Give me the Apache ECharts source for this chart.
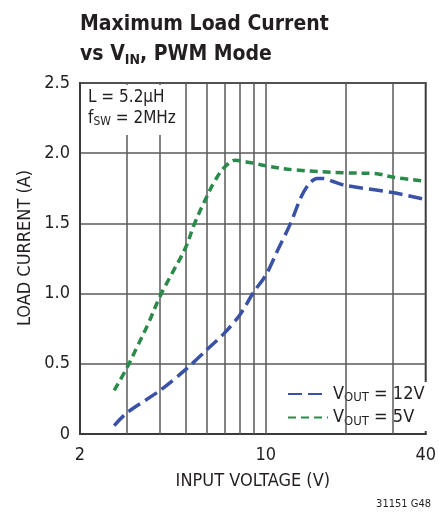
<!DOCTYPE html>
<html>
<head>
<meta charset="utf-8">
<script src="https://cdn.jsdelivr.net/npm/echarts@6/dist/echarts.min.js"></script>
<style>html,body{margin:0;padding:0;background:#fff}#c{width:439px;height:514px}</style>
</head>
<body>
<div id="c"></div>
<script>
// ---- data ----
var vin12 = [2.69, 3.0, 4.0, 5.0, 6.0, 7.0, 8.0, 9.0, 10, 11.1, 12.4, 13.6, 14.6, 15.6, 16.5, 17.8, 20, 30, 40];
var iout12 = [0.06, 0.15, 0.31, 0.46, 0.60, 0.72, 0.85, 1.01, 1.13, 1.31, 1.50, 1.69, 1.785, 1.82, 1.82, 1.80, 1.77, 1.72, 1.67];
var vin5 = [2.69, 3.0, 3.28, 3.62, 4.0, 4.43, 5.0, 5.4, 6.0, 6.47, 7.0, 7.7, 8.3, 9.0, 10, 13, 20, 25.7, 30, 40];
var iout5 = [0.31, 0.47, 0.62, 0.79, 0.98, 1.14, 1.33, 1.50, 1.69, 1.81, 1.90, 1.95, 1.94, 1.93, 1.91, 1.88, 1.86, 1.855, 1.83, 1.80];
var xGridValues = [3, 4, 5, 6, 7, 8, 9, 10, 20, 30];
var xTickLabels = [2, 10, 40];
var seriesNames = ['VOUT = 12V', 'VOUT = 5V'];

var FONT = "'Liberation Sans Narrow','DejaVu Sans Condensed',sans-serif";
var GRID = '#5a5a5a';
var BLUE = '#3a52a6';
var GREEN = '#2a8a4a';

function pairs(xs, ys) { return xs.map(function (x, i) { return [x, ys[i]]; }); }

var chart = echarts.init(document.getElementById('c'), null, {renderer: 'canvas'});
chart.setOption({
  animation: false,
  backgroundColor: '#fff',
  textStyle: {fontFamily: FONT},
  title: {
    left: 80, top: 10, padding: 0,
    text: '{a|Maximum Load Current}\n{a|vs V}{s|IN}{a|, PWM Mode}',
    textStyle: {
      rich: {
        a: {fontFamily: FONT, fontWeight: 'bold', fontSize: 21, color: '#231f20', lineHeight: 30},
        s: {fontFamily: FONT, fontWeight: 'bold', fontSize: 14, color: '#231f20', lineHeight: 30, padding: [11, 0, 0, 0]}
      }
    }
  },
  grid: {left: 80, top: 83, right: 7, bottom: 80, show: true, borderColor: '#3a3a3a', borderWidth: 2, backgroundColor: 'transparent'},
  xAxis: {
    type: 'log', logBase: 10, min: 2, max: 40,
    name: 'INPUT VOLTAGE (V)', nameLocation: 'middle', nameGap: 38,
    nameTextStyle: {fontFamily: FONT, fontSize: 18, color: '#231f20'},
    axisLine: {show: true, lineStyle: {color: '#3a3a3a', width: 2}},
    axisTick: {show: false},
    splitLine: {show: false},
    axisLabel: {
      fontFamily: FONT, fontSize: 18, color: '#231f20', margin: 12,
      showMinLabel: true, showMaxLabel: true,
      formatter: function (v) {
        var r = Math.round(v);
        return xTickLabels.indexOf(r) >= 0 ? String(r) : '';
      }
    }
  },
  yAxis: {
    type: 'value', min: 0, max: 2.5, interval: 0.5,
    axisLine: {show: true, lineStyle: {color: '#3a3a3a', width: 2}},
    axisTick: {show: false},
    splitLine: {show: true, lineStyle: {color: GRID, width: 1.5}},
    axisLabel: {
      fontFamily: FONT, fontSize: 18, color: '#231f20', margin: 10,
      formatter: function (v) { return v === 0 ? '0' : v.toFixed(1); }
    }
  },
  legend: {
    orient: 'vertical', left: 283, top: 382,
    data: seriesNames,
    itemWidth: 40, itemHeight: 12, itemGap: 4,
    itemStyle: {opacity: 0},
    backgroundColor: '#fff', padding: [3, 8, 3, 4],
    formatter: function (n) {
      return n === seriesNames[0] ? '{n|V}{s|OUT}{n| = 12V}' : '{n|V}{s|OUT}{n| = 5V}';
    },
    textStyle: {
      rich: {
        n: {fontFamily: FONT, fontSize: 18, color: '#231f20'},
        s: {fontFamily: FONT, fontSize: 13, color: '#231f20', padding: [8, 0, 0, 0]}
      }
    }
  },
  graphic: [
    {type: 'rect', z: 50, shape: {x: 82, y: 85, width: 96, height: 50}, style: {fill: '#fff'}},
    {type: 'text', z: 51, left: 88, top: 89, style: {
      text: '{n|L = 5.2µH}\n{n|f}{s|SW}{n| = 2MHz}',
      rich: {
        n: {fontFamily: FONT, fontSize: 17, fill: '#231f20', lineHeight: 21},
        s: {fontFamily: FONT, fontSize: 12, fill: '#231f20', lineHeight: 21, padding: [7, 0, 0, 0]}
      }
    }},
    {type: 'text', z: 51, x: 25, y: 248, rotation: Math.PI / 2, style: {
      text: 'LOAD CURRENT (A)', fontFamily: FONT, fontSize: 18, fill: '#231f20', align: 'center', verticalAlign: 'middle'
    }},
    {type: 'text', z: 51, right: 8, bottom: 4, style: {
      text: '31151 G48', fontFamily: FONT, fontSize: 11, fill: '#231f20'
    }}
  ],
  series: [
    {
      type: 'line', data: [], z: 1, silent: true,
      markLine: {
        silent: true, symbol: 'none', label: {show: false},
        lineStyle: {color: GRID, width: 1.5, type: 'solid'},
        data: xGridValues.map(function (v) { return {xAxis: v}; })
      }
    },
    {
      name: seriesNames[0], type: 'line', z: 5, smooth: 0.3, symbol: 'none',
      lineStyle: {color: BLUE, width: 3.5, type: [14, 6], cap: 'butt'},
      itemStyle: {color: BLUE},
      data: pairs(vin12, iout12)
    },
    {
      name: seriesNames[1], type: 'line', z: 5, smooth: 0.4, symbol: 'none',
      lineStyle: {color: GREEN, width: 3.5, type: [8, 5], cap: 'butt'},
      itemStyle: {color: GREEN},
      data: pairs(vin5, iout5)
    }
  ]
});
</script>
</body>
</html>
